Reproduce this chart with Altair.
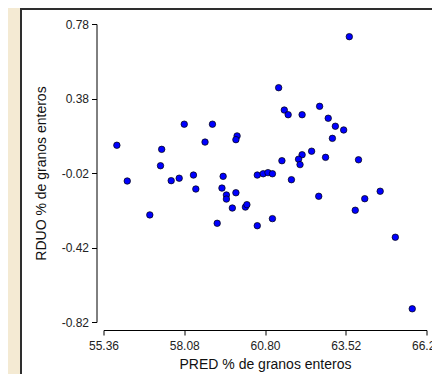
import altair as alt
import pandas as pd

pred = [58.08, 59.03, 55.81, 57.32, 58.78, 59.86, 59.82, 57.28, 56.16, 57.64,
        57.91, 58.39, 58.47, 59.39, 59.35, 59.50, 59.50, 59.82, 59.70, 60.14,
        60.19, 56.92, 59.19, 60.54, 60.54, 60.74, 60.90, 61.05, 61.26, 61.45,
        61.58, 62.05, 62.64, 62.93, 63.17, 63.45, 63.07, 62.37, 62.05, 61.93,
        61.98, 61.37, 62.84, 63.95, 61.69, 62.61, 64.16, 64.68, 63.84, 61.05,
        65.19, 63.64, 65.76]
rduo = [0.242, 0.242, 0.129, 0.107, 0.146, 0.179, 0.159, 0.019, -0.063, -0.061,
        -0.048, -0.031, -0.106, -0.038, -0.101, -0.138, -0.160, -0.126, -0.208, -0.203,
        -0.190, -0.245, -0.290, -0.303, -0.031, -0.024, -0.018, -0.024, 0.438, 0.318,
        0.293, 0.293, 0.338, 0.274, 0.231, 0.211, 0.166, 0.097, 0.078, 0.054,
        0.025, 0.046, 0.064, 0.051, -0.056, -0.145, -0.158, -0.118, -0.220, -0.265,
        -0.365, 0.712, -0.749]

x_ticks = [55.36, 58.08, 60.80, 63.52, 66.24]
y_ticks = [0.78, 0.38, -0.02, -0.42, -0.82]

df = pd.DataFrame({"pred": pred, "rduo": rduo})

FONT = "Liberation Sans"
lab_expr = "datum.value < 0 ? '-' + format(abs(datum.value), '.2f') : format(datum.value, '.2f')"

panel = alt.Chart(pd.DataFrame({"a": [0]})).mark_rect(
    fill="white", stroke="#2e2e2e", strokeWidth=2
).encode(
    x=alt.value(-82.5), x2=alt.value(420),
    y=alt.value(-15), y2=alt.value(420)
)

axis_common = dict(grid=False, tickSize=5,
                   domainColor="#000", tickColor="#000",
                   labelFont=FONT, labelFontSize=12, labelColor="#222",
                   titleFont=FONT, titleFontSize=14, titleFontWeight="normal",
                   titleColor="#111", labelFlush=False, labelOverlap=False,
                   zindex=1, labelExpr=lab_expr)

points = alt.Chart(df).mark_point(
    filled=True, fill="#0000FF", stroke="#000000", strokeWidth=0.7,
    size=42, opacity=1
).encode(
    x=alt.X("pred:Q",
            scale=alt.Scale(domain=[x_ticks[0], x_ticks[-1]], nice=False, zero=False),
            axis=alt.Axis(title="PRED % de granos enteros", values=x_ticks,
                          offset=8, labelPadding=5, titlePadding=6, **axis_common)),
    y=alt.Y("rduo:Q",
            scale=alt.Scale(domain=[y_ticks[-1], y_ticks[0]], nice=False, zero=False),
            axis=alt.Axis(title="RDUO % de granos enteros", values=y_ticks,
                          offset=7, labelPadding=3, titlePadding=13, **axis_common))
)

chart = alt.layer(panel, points).properties(
    width=323, height=298,
    background="#F4EAD3",
    padding={"left": 95.5, "top": 16, "right": 5.5, "bottom": 52},
    autosize=alt.AutoSizeParams(type="none")
).configure_view(stroke=None)

chart.save("out.html", embed_options={"renderer": "svg", "actions": False})
